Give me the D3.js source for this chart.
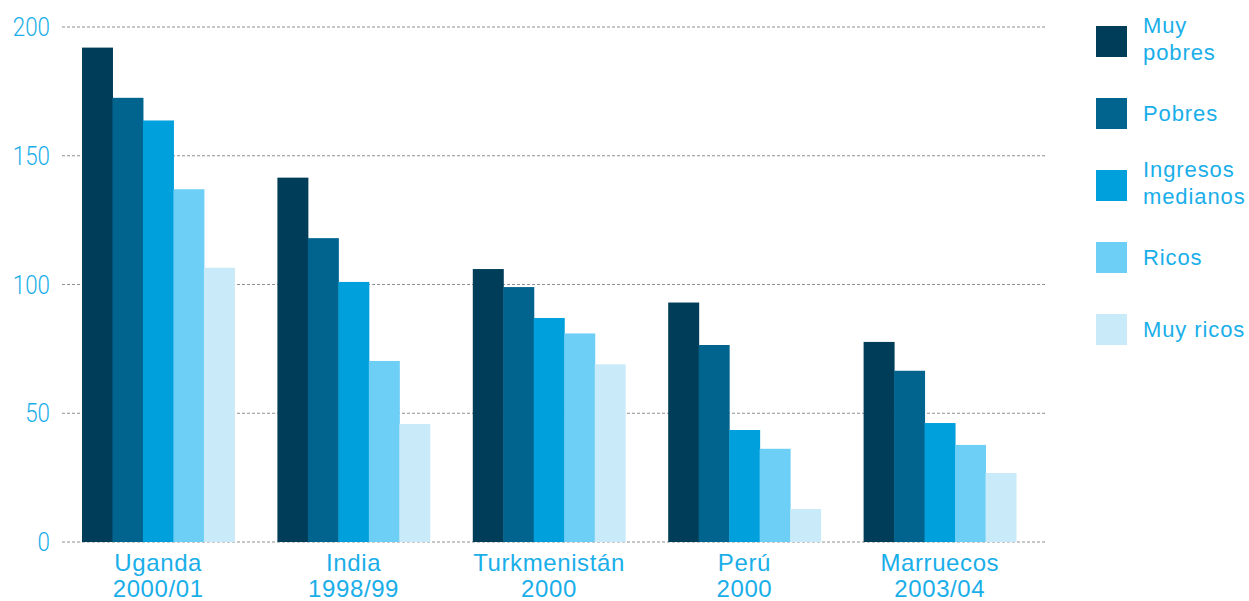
<!DOCTYPE html>
<html>
<head>
<meta charset="utf-8">
<script src="https://cdn.jsdelivr.net/npm/d3@7"></script>
<style>
  body { margin: 0; background: #fff; }
  text { font-family: 'Liberation Sans', Arial, sans-serif; }
</style>
</head>
<body>
<svg id="chart" width="1249" height="601"></svg>
<script>
// categories and series
const countries = [['Uganda', '2000/01'], ['India', '1998/99'], ['Turkmenistán', '2000'], ['Perú', '2000'], ['Marruecos', '2003/04']]
const seriesNames = [['Muy', 'pobres'], ['Pobres'], ['Ingresos', 'medianos'], ['Ricos'], ['Muy ricos']]
const muyPobres = [192, 141.5, 106, 93, 77.7]
const pobres = [172.5, 118, 99, 76.5, 66.5]
const medianos = [163.7, 101, 87, 43.5, 46.2]
const ricos = [137, 70.3, 81, 36.2, 37.7]
const muyRicos = [106.5, 45.8, 69, 12.8, 26.8]
const yTicks = [0, 50, 100, 150, 200]

const colors = ['#003d58', '#00648f', '#00a0dc', '#6dcff6', '#c8eaf9']
const textColor = '#1aaee9'

const series = [muyPobres, pobres, medianos, ricos, muyRicos]

const svg = d3.select('#chart')

// scales
const x0 = d3.scaleBand()
  .domain(countries.map(d => d[0]))
  .range([60.5, 1037.5])
  .paddingInner(0.22)
  .paddingOuter(0.11)

const x1 = d3.scaleBand()
  .domain(d3.range(series.length))
  .range([0, x0.bandwidth()])

const y = d3.scaleLinear().domain([0, 200]).range([542, 27])

// gridlines
svg.append('g')
  .selectAll('line')
  .data(yTicks)
  .enter()
  .append('line')
  .attr('x1', 62)
  .attr('x2', 1045)
  .attr('y1', d => y(d))
  .attr('y2', d => y(d))
  .attr('stroke', '#8f8f8f')
  .attr('stroke-width', 1)
  .attr('stroke-dasharray', '3,2')

// y tick labels
svg.append('g')
  .selectAll('text')
  .data(yTicks)
  .enter()
  .append('text')
  .attr('transform', d => `translate(50,${y(d) + 9}) scale(0.86,1)`)
  .attr('text-anchor', 'end')
  .attr('fill', textColor)
  .style('font-size', '26px')
  .style('font-family', 'Roboto, sans-serif')
  .style('font-weight', 300)
  .text(d => d)

// bars
const groups = svg.append('g')
  .selectAll('g')
  .data(countries)
  .enter()
  .append('g')
  .attr('transform', d => `translate(${x0(d[0])},0)`)

groups.selectAll('rect')
  .data((d, i) => series.map((s, j) => ({ j: j, v: s[i] })))
  .enter()
  .append('rect')
  .attr('x', d => x1(d.j))
  .attr('width', x1.bandwidth() + 0.5)
  .attr('y', d => y(d.v))
  .attr('height', d => y(0) - y(d.v))
  .attr('fill', d => colors[d.j])

// category labels
const catLabels = svg.append('g')
  .selectAll('text')
  .data(countries)
  .enter()
  .append('text')
  .attr('text-anchor', 'middle')
  .attr('fill', textColor)
  .style('font-size', '24px')
  .style('letter-spacing', '0.6px')

catLabels.append('tspan')
  .attr('x', d => x0(d[0]) + x0.bandwidth() / 2)
  .attr('y', 571)
  .text(d => d[0])

catLabels.append('tspan')
  .attr('x', d => x0(d[0]) + x0.bandwidth() / 2)
  .attr('y', 597)
  .text(d => d[1])

// legend
const legend = svg.append('g')
  .selectAll('g')
  .data(seriesNames)
  .enter()
  .append('g')
  .attr('transform', (d, i) => `translate(1096,${26 + i * 72})`)

legend.append('rect')
  .attr('width', 31)
  .attr('height', 31)
  .attr('fill', (d, i) => colors[i])

legend.append('text')
  .attr('fill', textColor)
  .style('font-size', '22px')
  .style('letter-spacing', '0.9px')
  .selectAll('tspan')
  .data(d => d.map((t, k) => ({ t: t, k: k, n: d.length })))
  .enter()
  .append('tspan')
  .attr('x', 47)
  .attr('y', d => d.n === 1 ? 23 : 7 + d.k * 27)
  .text(d => d.t)
</script>
</body>
</html>
